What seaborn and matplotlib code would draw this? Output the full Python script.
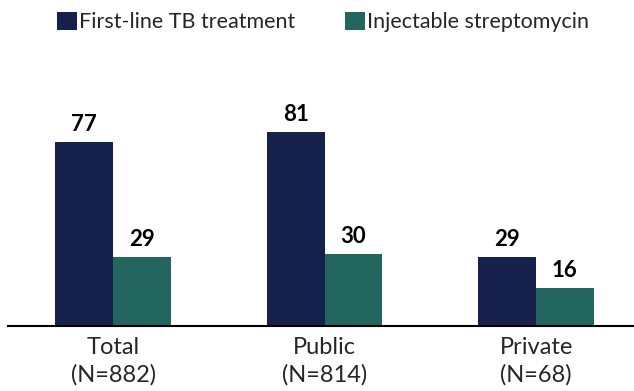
import matplotlib
matplotlib.use("Agg")
import matplotlib.pyplot as plt
from matplotlib.patches import Patch
import seaborn as sns
import pandas as pd

categories = ["Total\n(N=882)", "Public\n(N=814)", "Private\n(N=68)"]
series_names = ["First-line TB treatment", "Injectable streptomycin"]
first_line = [77, 81, 29]
streptomycin = [29, 30, 16]
colors = ["#15204b", "#22665f"]

df = pd.DataFrame({
    "category": categories * 2,
    "series": [series_names[0]] * 3 + [series_names[1]] * 3,
    "value": first_line + streptomycin,
})

sns.set_theme(style="white")
plt.rcParams["font.family"] = ["Lato", "DejaVu Sans"]

fig = plt.figure(figsize=(6.34, 3.91), dpi=100)
ax = fig.add_axes([0.0126, 0.166, 0.9874, 0.612])

sns.barplot(data=df, x="category", y="value", hue="series",
            palette=colors, width=0.545, saturation=1, ax=ax,
            legend=False, errorbar=None, linewidth=0)

for container in ax.containers:
    ax.bar_label(container, fmt="%d", padding=5, fontsize=16,
                 fontweight="bold", color="black")

ax.set_xlim(-0.497, 2.463)
ax.set_ylim(0, 100)
ax.set_xlabel("")
ax.set_ylabel("")
ax.set_yticks([])
ax.tick_params(axis="x", length=0, labelsize=17, pad=8)
for lbl in ax.get_xticklabels():
    lbl.set_linespacing(1.35)
for side in ["top", "right", "left"]:
    ax.spines[side].set_visible(False)
ax.spines["bottom"].set_color("black")
ax.spines["bottom"].set_linewidth(1.5)

handles = [Patch(facecolor=c, edgecolor="none") for c in colors]
fig.legend(handles, series_names, loc="upper left", bbox_to_anchor=(0.072, 1.0),
           ncol=2, frameon=False, fontsize=15.5, handlelength=0.9, handleheight=0.9,
           handletextpad=0.12, columnspacing=2.3, borderaxespad=0.15)

fig.savefig("out.png", dpi=100)
